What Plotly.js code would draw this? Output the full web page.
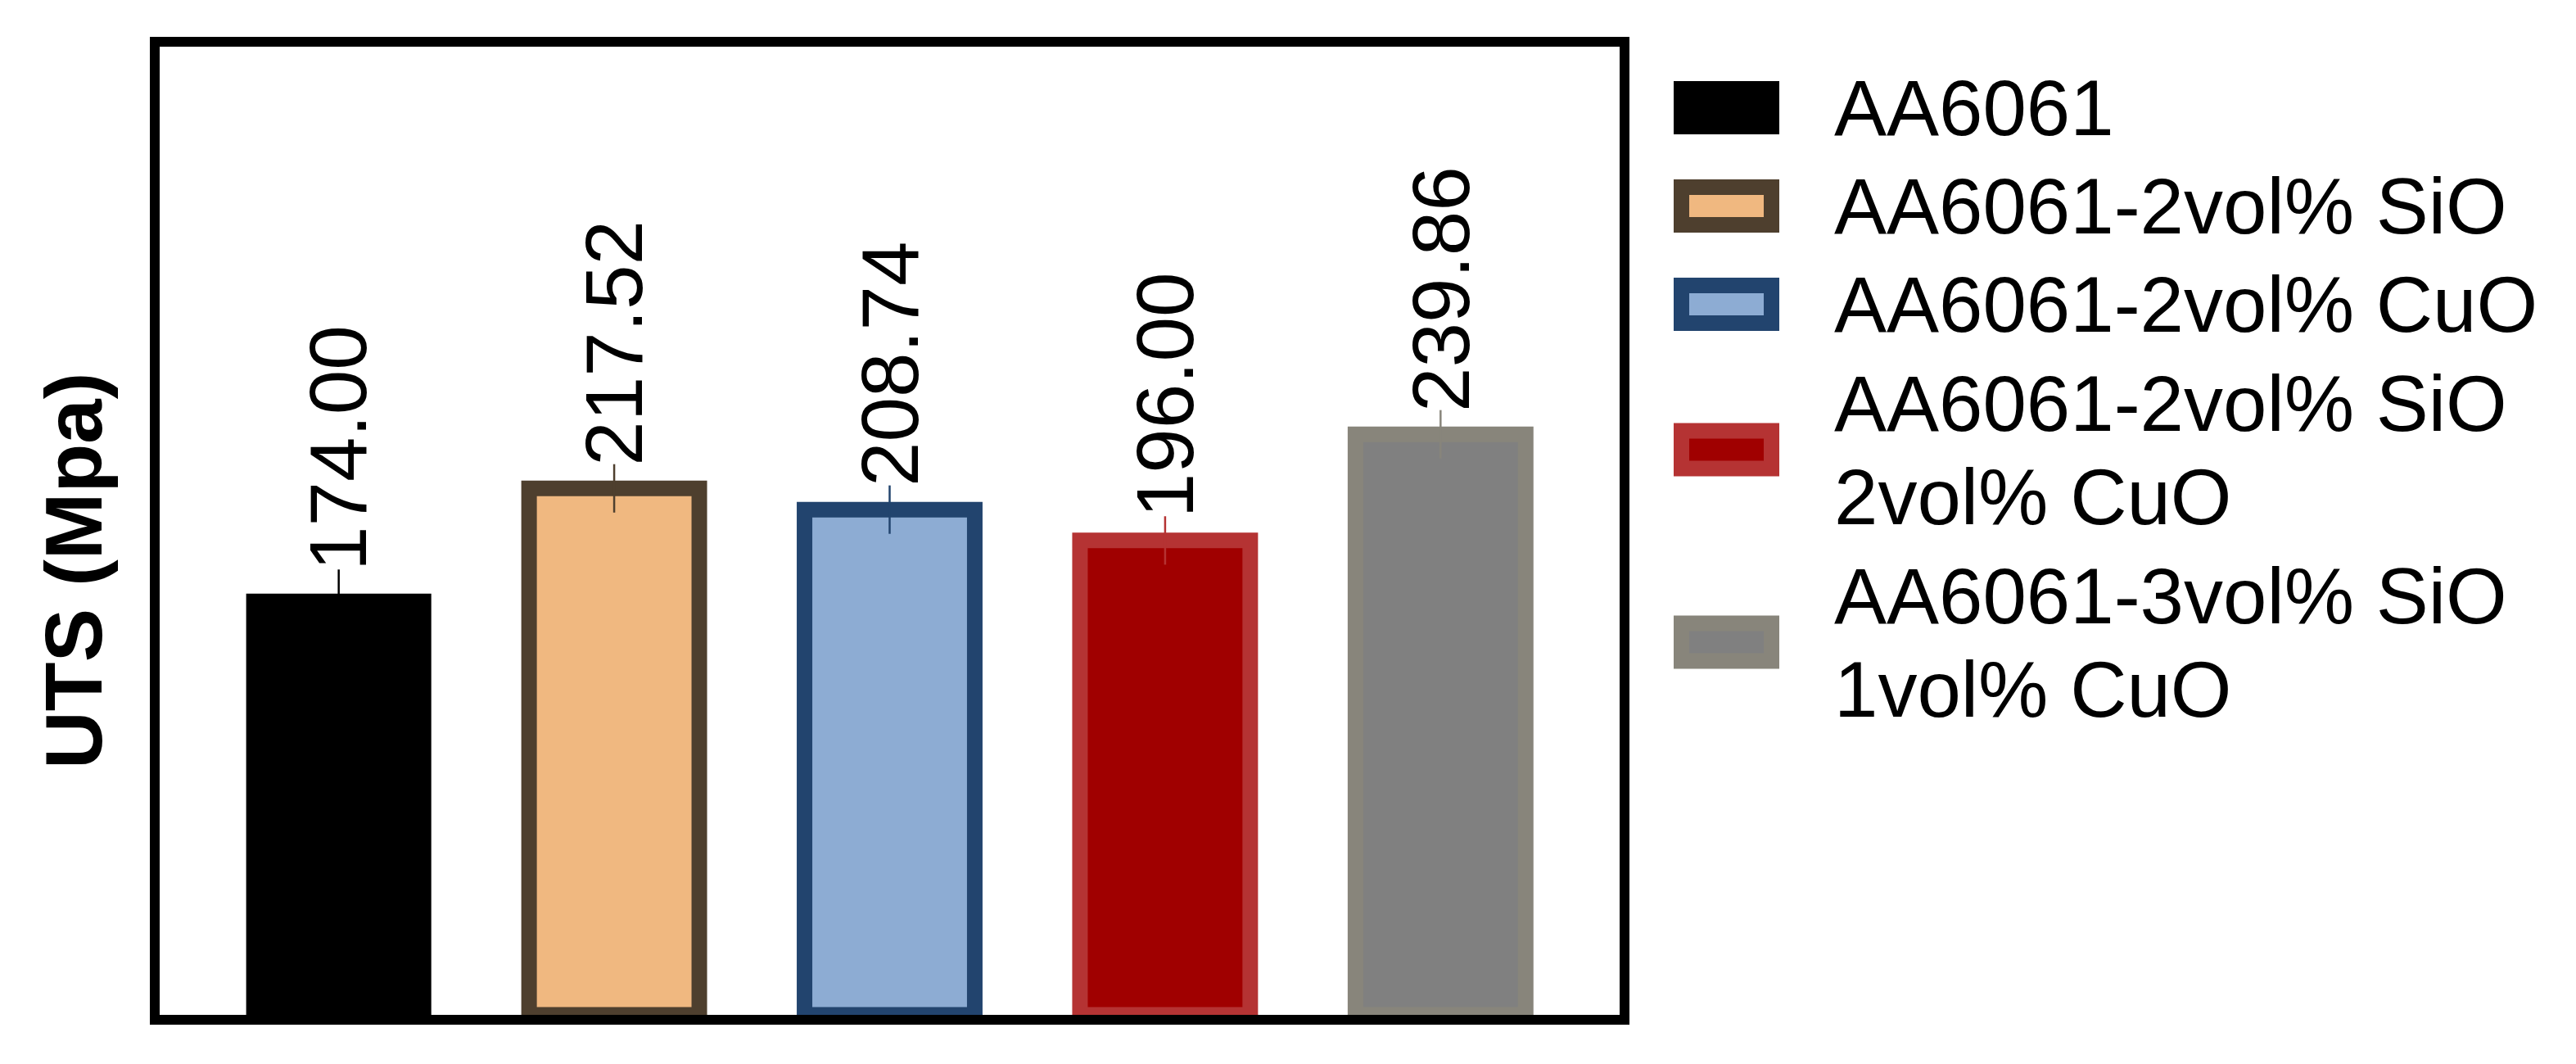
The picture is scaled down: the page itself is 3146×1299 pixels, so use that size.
<!DOCTYPE html>
<html>
<head>
<meta charset="utf-8">
<script src="https://cdn.plot.ly/plotly-3.0.1.min.js"></script>
<style>
  html, body { margin: 0; padding: 0; background: #fff; }
  #chart { width: 3146px; height: 1299px; }
</style>
</head>
<body>
<div id="chart"></div>
<script>
const samples = [
    'AA6061',
    'AA6061-2vol% SiO',
    'AA6061-2vol% CuO',
    'AA6061-2vol% SiO<br>2vol% CuO',
    'AA6061-3vol% SiO<br>1vol% CuO'
];
const uts    = [174.00, 217.52, 208.74, 196.00, 239.86];
const utsErr = [10, 10, 10, 10, 10];
const fillColors = ['#000000', '#F0B880', '#8DACD3', '#A00000', '#808080'];
const edgeColors = ['#000000', '#4E3F2E', '#22446E', '#B53333', '#88857B'];

const W = 3146, H = 1299;
const M = { l: 195, r: 1168, t: 57, b: 60 };
const FONT = 'Liberation Sans, Arial, sans-serif';
const BORDER = 19;

// pixel position on the page -> paper coordinates
const px = x => (x - M.l) / (W - M.l - M.r);
const py = y => (H - M.b - y) / (H - M.t - M.b);

const traces = samples.map((name, i) => {
    // the black bar has no visible edge, so draw it without one
    const lw = i === 0 ? 0 : BORDER;
    return {
        type: 'bar', x: [i], y: [uts[i]], name: name,
        width: i === 0 ? 0.672 : 0.618,
        marker: { color: fillColors[i], line: { color: edgeColors[i], width: lw } },
        error_y: { type: 'data', array: [utsErr[i]], color: edgeColors[i], thickness: 2.5, width: 0 },
        showlegend: false, hoverinfo: 'skip'
    };
});

const valueLabels = uts.map((v, i) => ({
    x: i, y: v + utsErr[i], xref: 'x', yref: 'y',
    text: v.toFixed(2), textangle: -90, showarrow: false,
    xanchor: 'center', yanchor: 'bottom', yshift: -4,
    font: { family: FONT, size: 98, color: '#000' }
}));

// legend drawn by hand: big framed swatches like the original
const LEG = { x0: 2044, x1: 2173, h: 65, top: 74, line: 115, gap: 5, textX: 2238 };
const legendShapes = [], legendText = [];
let cursor = LEG.top;
samples.forEach((name, i) => {
    const lines = name.split('<br>');
    const cy = cursor + lines.length * LEG.line / 2;
    cursor += lines.length * LEG.line + LEG.gap;
    const hb = BORDER / 2;
    legendShapes.push({
        type: 'rect', xref: 'paper', yref: 'paper',
        x0: px(LEG.x0 + hb), x1: px(LEG.x1 - hb),
        y0: py(cy + LEG.h / 2 - hb), y1: py(cy - LEG.h / 2 + hb),
        fillcolor: fillColors[i], line: { color: edgeColors[i], width: BORDER }
    });
    legendText.push({
        xref: 'paper', yref: 'paper', x: px(LEG.textX), y: py(cy),
        xanchor: 'left', yanchor: 'middle', align: 'left', showarrow: false,
        text: lines.map(l => `<span style="font-size:96px">${l}</span>`).join('<br>'),
        font: { family: FONT, size: 88, color: '#000' }
    });
});

const yTitle = {
    xref: 'paper', yref: 'paper', x: px(90), y: py(697),
    xanchor: 'center', yanchor: 'middle', textangle: -90, showarrow: false,
    text: '<b>UTS (Mpa)</b>', font: { family: FONT, size: 98, color: '#000' }
};

const frame = {
    showline: true, linewidth: 12, linecolor: '#000', mirror: true,
    showgrid: false, zeroline: false, showticklabels: false, ticks: '', fixedrange: true
};

Plotly.newPlot('chart', traces, {
    width: W, height: H,
    margin: M,
    barmode: 'overlay',
    xaxis: Object.assign({ range: [-0.65, 4.65] }, frame),
    yaxis: Object.assign({ range: [0, 400] }, frame),
    annotations: valueLabels.concat(legendText, [yTitle]),
    shapes: legendShapes,
    paper_bgcolor: '#fff', plot_bgcolor: '#fff',
    font: { family: FONT, color: '#000' },
    showlegend: false
}, { displayModeBar: false, staticPlot: true });
</script>
</body>
</html>
